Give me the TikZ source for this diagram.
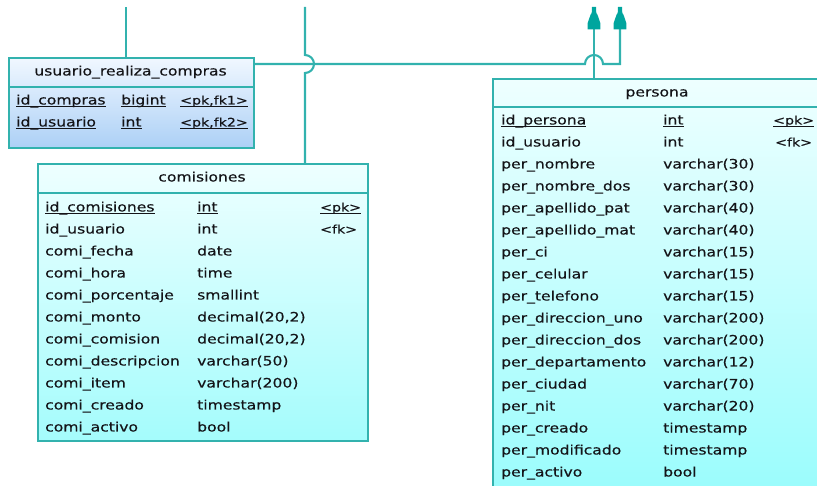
\documentclass[tikz,border=0pt]{standalone}
\usepackage{fontspec}
\setmainfont{DejaVu Sans}[FakeStretch=1.2, FakeBold=0.35]

% colours of the model
\definecolor{relline}{RGB}{50,178,174}
\definecolor{headfill}{RGB}{0,165,158}
\definecolor{urcA}{RGB}{240,247,255}
\definecolor{urcB}{RGB}{172,208,246}
\definecolor{tabA}{RGB}{238,255,255}
\definecolor{tabB}{RGB}{164,252,252}
\definecolor{txt}{RGB}{20,20,24}

\newcommand\fs{\fontsize{13}{15}\selectfont}
\newcommand\ks{\fontsize{11.8}{14}\selectfont}
% underline at a fixed distance below the baseline
\newcommand\ulx[1]{\setbox0\hbox{#1}\rlap{\rule[-2.3pt]{\wd0}{0.8pt}}\box0}

\tikzset{
  tbl/.style={draw=relline, line width=2.2pt, anchor=north west, inner sep=0pt, shading angle=25},
  sepline/.style={draw=relline, line width=2.2pt},
  rel/.style={draw=relline, line width=2.1pt},
  cell/.style={anchor=west, inner sep=0pt, text height=9.5pt, text depth=2.5pt, font=\fs, text=txt},
  keycell/.style={cell, font=\ks},
  title/.style={cell, anchor=center},
}

\begin{document}
\begin{tikzpicture}[x=1pt, y=1pt, yscale=-1]
\useasboundingbox (0,0) rectangle (817,486);
\clip (0,0) rectangle (817,486);

% free ends and turning points of the relationship lines
\coordinate (endA) at (126,7);
\coordinate (endB) at (305,7);
\coordinate (baseC) at (594,29);
\coordinate (baseD) at (620,29);
\coordinate (cross) at (0,64);
\coordinate (urcsep) at (0,87);
\coordinate (comsep) at (0,193);
\coordinate (persep) at (0,107);

% tables
\node[tbl, top color=urcA, bottom color=urcB, minimum width=245pt, minimum height=90pt] (urc) at (8,57) {};
\node[tbl, top color=tabA, bottom color=tabB, minimum width=330pt, minimum height=277pt] (com) at (37,163) {};
\node[tbl, top color=tabA, bottom color=tabB!92!cyan, minimum width=332pt, minimum height=430pt] (per) at (492,78) {};

\path[sepline] (urc.west |- urcsep) -- (urc.east |- urcsep);
\path[sepline] (com.west |- comsep) -- (com.east |- comsep);
\path[sepline] (per.west |- persep) -- (per.east |- persep);

% relationship lines
\draw[rel] (urc.north -| endA) -- (endA);
\draw[rel] (com.north -| endB) -- (305,73) arc[start angle=90, end angle=-90, radius=9] -- (endB);
\draw[rel] (urc.east |- cross) -- (585,64) arc[start angle=180, end angle=360, radius=9] -- (baseD |- cross) -- (baseD);
\draw[rel] (per.north -| baseC) -- (baseC);

% relationship end symbols
\foreach \hx in {594,620}
  \fill[headfill, shift={(\hx,0)}] (-2,7) -- (2,7) -- (2.3,13) -- (3.4,14.5) -- (6.3,23)
    -- (6.3,29.5) -- (-6.3,29.5) -- (-6.3,23) -- (-3.4,14.5) -- (-2.3,13) -- cycle;

% usuario_realiza_compras
\node[title] (urctitle) at (130.5,72) {usuario\_realiza\_compras};
\node[cell] (urcn1) at (16,101) {\ulx{id\_compras}};
\node[cell] (urct1) at (121,101) {\ulx{bigint}};
\node[keycell] (urck1) at (180,101) {\ulx{<pk,fk1>}};
\node[cell] (urcn2) at (16,123) {\ulx{id\_usuario}};
\node[cell] (urct2) at (121,123) {\ulx{int}};
\node[keycell] (urck2) at (180,123) {\ulx{<pk,fk2>}};

% comisiones
\node[title] (comtitle) at (202,178) {comisiones};
\node[cell] (comn1) at (45,208) {\ulx{id\_comisiones}};
\node[cell] (comt1) at (197,208) {\ulx{int}};
\node[keycell] (comk1) at (320,208) {\ulx{<pk>}};
\node[keycell] (comk2) at (320,230) {<fk>};
\foreach \nm/\ty [count=\i from 2] in {id\_usuario/int, comi\_fecha/date, comi\_hora/time,
    comi\_porcentaje/smallint, comi\_monto/{decimal(20,2)}, comi\_comision/{decimal(20,2)},
    comi\_descripcion/varchar(50), comi\_item/varchar(200), comi\_creado/timestamp, comi\_activo/bool}
{
  \node[cell] (comn\i) at (45,{208+22*(\i-1)}) {\nm};
  \node[cell] (comt\i) at (197,{208+22*(\i-1)}) {\ty};
}

% persona
\node[title] (pertitle) at (657,93) {persona};
\node[cell] (pern1) at (501,121) {\ulx{id\_persona}};
\node[cell] (pert1) at (663,121) {\ulx{int}};
\node[keycell] (perk1) at (773,121) {\ulx{<pk>}};
\node[keycell] (perk2) at (775,143) {<fk>};
\foreach \nm/\ty [count=\i from 2] in {id\_usuario/int, per\_nombre/varchar(30), per\_nombre\_dos/varchar(30),
    per\_apellido\_pat/varchar(40), per\_apellido\_mat/varchar(40), per\_ci/varchar(15),
    per\_celular/varchar(15), per\_telefono/varchar(15), per\_direccion\_uno/varchar(200),
    per\_direccion\_dos/varchar(200), per\_departamento/varchar(12), per\_ciudad/varchar(70),
    per\_nit/varchar(20), per\_creado/timestamp, per\_modificado/timestamp, per\_activo/bool}
{
  \node[cell] (pern\i) at (501,{121+22*(\i-1)}) {\nm};
  \node[cell] (pert\i) at (663,{121+22*(\i-1)}) {\ty};
}
\end{tikzpicture}
\end{document}
